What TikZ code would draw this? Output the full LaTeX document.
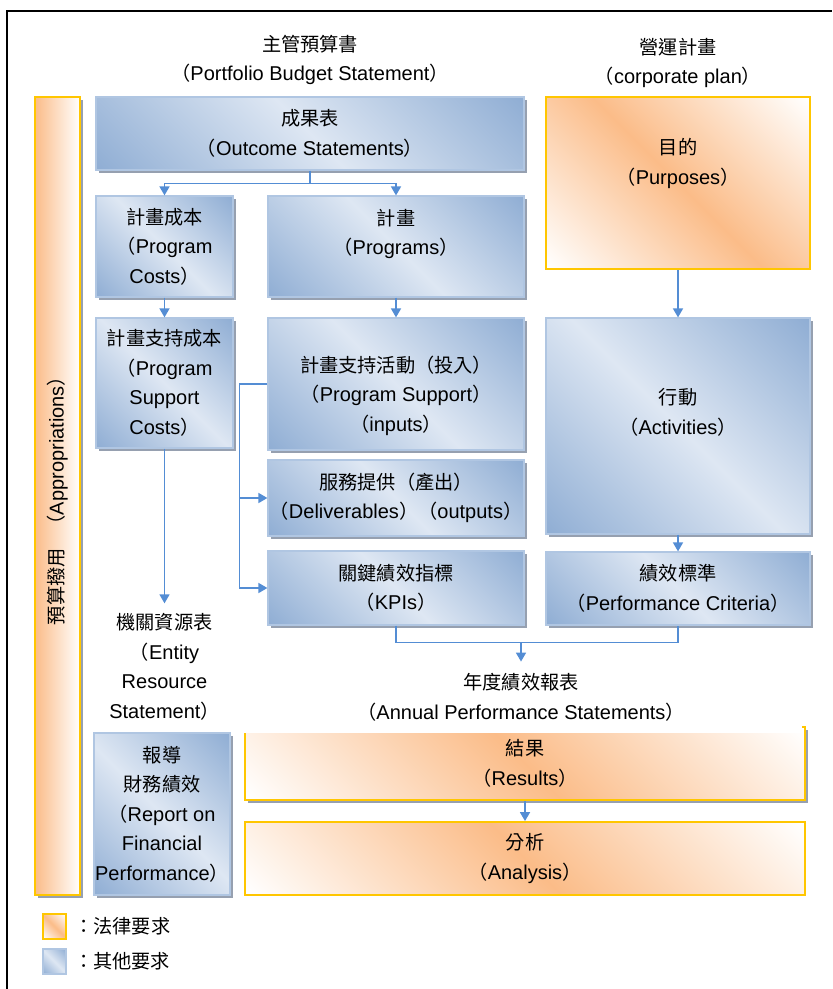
\documentclass[tikz,border=0pt]{standalone}
\usepackage{fontspec}
\setmainfont{Liberation Sans}
\newfontfamily\cjk[Scale=0.96]{Noto Sans CJK TC}
\usetikzlibrary{arrows.meta,positioning,shadows,calc}

\definecolor{bdark}{RGB}{144,174,212}
\definecolor{blight}{RGB}{222,231,243}
\definecolor{bline}{RGB}{176,198,226}
\definecolor{orng}{RGB}{251,188,136}
\definecolor{ylw}{RGB}{255,198,0}
\definecolor{arrowc}{RGB}{84,141,212}
\definecolor{shadowc}{RGB}{150,160,176}

\pgfdeclarehorizontalshading{bluesh}{100bp}{color(0bp)=(bdark); color(15bp)=(bdark); color(50bp)=(blight); color(85bp)=(bdark); color(100bp)=(bdark)}
\pgfdeclarehorizontalshading{orangesh}{100bp}{color(0bp)=(white); color(15bp)=(white); color(50bp)=(orng); color(85bp)=(white); color(100bp)=(white)}

\newcommand\zh[1]{{\cjk #1}}
\newcommand\lpz{{\cjk （}}
\newcommand\rpz{{\cjk ）}}
\newcommand\boxfont{\fontsize{10}{14.75}\selectfont}
\def\px{0.5pt}

\tikzset{
  boxwh/.style 2 args={
    minimum width=#1*\px,
    minimum height=#2*\px
  },
  txt/.style={
    align=center,
    inner sep=0pt,
    font=\boxfont
  },
  boxshadow/.style={
    drop shadow={shadow xshift=1.5pt, shadow yshift=-1.5pt, fill=shadowc, opacity=1}
  },
  bluefill/.style={
    txt, rectangle,
    draw=bline, line width=0.6pt,
    shade, shading=bluesh, shading angle=45
  },
  bluebox/.style={bluefill, boxshadow},
  orangebox/.style={
    txt, rectangle,
    draw=ylw, line width=0.9pt,
    shade, shading=orangesh, shading angle=45
  },
  apprbar/.style={
    txt, rectangle, boxshadow,
    draw=ylw, line width=0.9pt,
    left color=orng, right color=white
  },
  conn/.style={draw=arrowc, line width=0.8pt}
}

\begin{document}
\begin{tikzpicture}[x=\px, y=-\px, >={Triangle[length=4.5pt,width=5pt]}]
    \useasboundingbox (0,0) rectangle (832,989);
    \draw[line width=0.8pt] (7,989) |- (832,11);

    %% Headers
    \node[txt] (pbs) at (310,60) {\zh{主管預算書}\\\lpz Portfolio Budget Statement\rpz};
    \node[txt] (cplan) at (678,63) {\zh{營運計畫}\\\lpz corporate plan\rpz};

    %% Appropriations
    \node[apprbar, boxwh={45}{798}] (appr) at (57.5,496) {\rotatebox{90}{\zh{預算撥用}\hspace{7pt}\lpz Appropriations\rpz}};

    % Row 1
    \node[bluebox, boxwh={428}{73}] (outc) at (310,133.5) {\zh{成果表}\\\lpz Outcome Statements\rpz};
    \node[orangebox, boxwh={264}{172}] (purp) at (678,183) {\zh{目的}\\\lpz Purposes\rpz\\[7pt]\mbox{}};

    % Row 2
    \node[bluebox, boxwh={137}{101}] (pcost) at (164.5,246.5) {\zh{計畫成本}\\\lpz Program\\Costs\rpz};
    \node[bluebox, boxwh={256}{101}] (prog) at (396,246.5) {\zh{計畫}\\\lpz Programs\rpz\\\mbox{}};

    % Row 3
    \node[bluebox, boxwh={137}{130}] (pscost) at (164.5,383) {\zh{計畫支持成本}\\\lpz Program\\Support\\Costs\rpz};
    \node[bluebox, boxwh={256}{132}] (psact) at (396,384) {\mbox{}\\[5pt]\zh{計畫支持活動（投入）}\\\lpz Program Support\rpz\\\lpz inputs\rpz};
    \node[bluebox, boxwh={264}{216}] (activ) at (678,426) {\zh{行動}\\\lpz Activities\rpz\\\mbox{}};
    \node[bluebox, boxwh={256}{76}] (deliv) at (396,498) {\zh{服務提供（產出）}\\\lpz Deliverables\rpz\lpz outputs\rpz};

    % Row 4
    \node[bluebox, boxwh={256}{74}] (kpi) at (396,588) {\zh{關鍵績效指標}\\\lpz KPIs\rpz};
    \node[bluebox, boxwh={264}{73}] (crit) at (678,588.5) {\zh{績效標準}\\\lpz Performance Criteria\rpz};
    \node[txt] (entity) at (164.5,667) {\zh{機關資源表}\\\lpz Entity\\Resource\\Statement\rpz};

    %% Annual statements
    \node[orangebox, boxshadow, boxwh={560}{73}] (resul) at (525,763.5) {\zh{結果}\\\lpz Results\rpz};
    \node[txt, fill=white, boxwh={562}{71}] (aps) at (521,697.5) {\zh{年度績效報表}\\\lpz Annual Performance Statements\rpz};
    \node[orangebox, boxwh={560}{73}] (analy) at (525,858.5) {\zh{分析}\\\lpz Analysis\rpz};
    \node[bluebox, boxwh={136}{162}] (report) at (162,814) {\zh{報導}\\\zh{財務績效}\\\lpz Report on\\Financial\\Performance\rpz};

    %% Legend
    \node[orangebox, boxwh={23}{25}] (legO) at (54.5,926.5) {};
    \node[txt, right=3.5pt of legO] (legOt) {\zh{：法律要求}};
    \node[bluefill, boxwh={23}{25}] (legB) at (54.5,961.5) {};
    \node[txt, right=3.5pt of legB] (legBt) {\zh{：其他要求}};

    %% Edges
    \draw[conn] (outc.south) -- ++(0,13) coordinate (osplit);
    \draw[conn, ->] (osplit) -| (pcost.north);
    \draw[conn, ->] (osplit) -| (prog.north);
    \draw[conn, ->] (pcost) -- (pscost);
    \draw[conn, ->] (prog) -- (psact);
    \draw[conn, ->] (purp) -- (activ);
    \draw[conn, ->] (activ) -- (crit);
    \draw[conn, ->, shorten >=5pt] (pscost) -- (entity);

    % inputs to outputs and KPIs
    \draw[conn] (psact.west) -- ++(-28,0) coordinate (ptap);
    \draw[conn, ->] (ptap) |- (deliv.west);
    \draw[conn, ->] (ptap) |- (kpi.west);

    % KPIs and criteria to annual statements
    \draw[conn] (kpi.south) -- ++(0,17) coordinate (kjoin) -| (crit.south);
    \draw[conn, ->] (kjoin -| aps.north) -- (aps.north);
    \draw[conn, ->] (resul) -- (analy);
\end{tikzpicture}
\end{document}
